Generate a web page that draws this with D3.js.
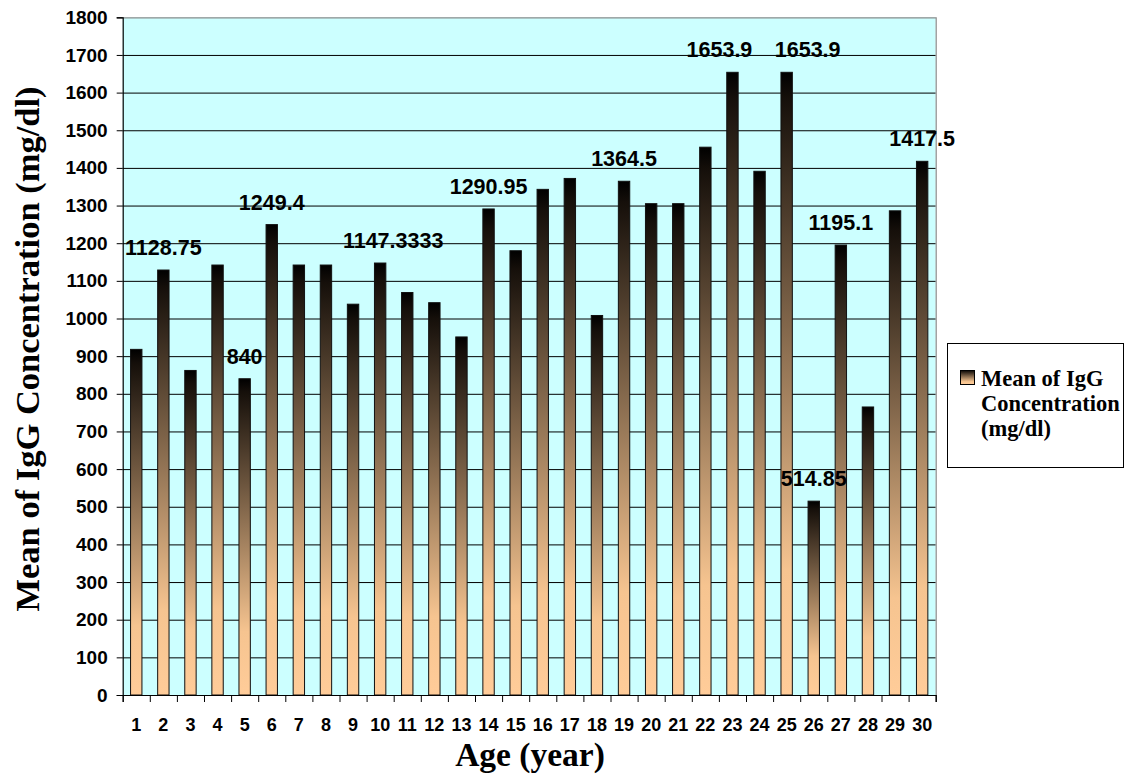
<!DOCTYPE html>
<html>
<head>
<meta charset="utf-8">
<script src="https://cdn.jsdelivr.net/npm/d3@7"></script>
<style>
  html, body { margin: 0; padding: 0; background: #ffffff; }
  svg { display: block; }
</style>
</head>
<body>
<svg id="chart" width="1126" height="780"></svg>
<script>
// ---- data ----
const ages = [1,2,3,4,5,6,7,8,9,10,11,12,13,14,15,16,17,18,19,20,21,22,23,24,25,26,27,28,29,30];
const iggMeans = [918, 1128.75, 862, 1142, 840, 1249.4, 1142, 1142, 1038, 1147.3333,
                  1069, 1042, 951, 1290.95, 1180, 1343, 1372, 1008, 1364.5, 1305,
                  1305, 1455, 1653.9, 1391, 1653.9, 514.85, 1195.1, 765, 1286, 1417.5];
const labeledAges = [2, 5, 6, 10, 14, 19, 23, 25, 26, 27, 30];
const yTicks = [0,100,200,300,400,500,600,700,800,900,1000,1100,1200,1300,1400,1500,1600,1700,1800];
const seriesName = ["Mean of IgG", "Concentration", "(mg/dl)"];
const xTitle = "Age (year)";
const yTitle = "Mean of IgG Concentration (mg/dl)";

// ---- layout ----
const plot = { left: 122.7, right: 935.7, top: 17.3, bottom: 695 };
const sans = "'Liberation Sans', Arial, sans-serif";
const serif = "'Liberation Serif', 'Times New Roman', serif";
// manual label nudges (as in the original, to keep neighbouring labels apart)
const labelNudge = { 10: 13, 23: -13, 25: 21 };

const svg = d3.select("#chart");
svg.append("rect").attr("width", 1126).attr("height", 780).attr("fill", "#ffffff");

const defs = svg.append("defs");
const grad = defs.append("linearGradient").attr("id", "barGrad")
  .attr("x1", 0).attr("y1", 0).attr("x2", 0).attr("y2", 1);
grad.append("stop").attr("offset", 0).attr("stop-color", "#000000");
grad.append("stop").attr("offset", 0.04).attr("stop-color", "#150f0a");
grad.append("stop").attr("offset", 0.8).attr("stop-color", "#F6C490");
grad.append("stop").attr("offset", 1).attr("stop-color", "#FFCC99");

const x = d3.scaleBand().domain(ages).range([plot.left, plot.right])
  .paddingInner(0.58).paddingOuter(0.29);
const xEdge = d3.scaleLinear().domain([0.5, 30.5]).range([plot.left, plot.right]);
const y = d3.scaleLinear().domain([0, 1800]).range([plot.bottom, plot.top]);

// plot background
svg.append("rect")
  .attr("x", plot.left).attr("y", plot.top)
  .attr("width", plot.right - plot.left).attr("height", plot.bottom - plot.top)
  .attr("fill", "#CCFFFF");

// gridlines
svg.append("g").selectAll("line")
  .data(yTicks.filter(t => t > 0 && t < 1800))
  .join("line")
  .attr("x1", plot.left).attr("x2", plot.right)
  .attr("y1", d => y(d) + 0.5).attr("y2", d => y(d) + 0.5)
  .attr("stroke", "#000").attr("stroke-width", 1);

// top / right border
svg.append("path")
  .attr("d", `M${plot.left},${y(1800) + 0.5}H${plot.right + 0.5}V${plot.bottom}`)
  .attr("fill", "none").attr("stroke", "#8c8c8c").attr("stroke-width", 1.2);

// bars
const data = ages.map((a, i) => ({ age: a, v: iggMeans[i] }));
svg.append("g").selectAll("rect")
  .data(data)
  .join("rect")
  .attr("x", d => x(d.age))
  .attr("y", d => y(d.v))
  .attr("width", x.bandwidth())
  .attr("height", d => y(0) - y(d.v))
  .attr("fill", "url(#barGrad)")
  .attr("stroke", "#111")
  .attr("stroke-width", 1);

// y axis
const yAxis = svg.append("g")
  .attr("transform", `translate(${plot.left},0)`)
  .call(d3.axisLeft(y).tickValues(yTicks).tickSize(6).tickPadding(9).tickFormat(d3.format("d")));
yAxis.select(".domain").attr("stroke", "#000").attr("stroke-width", 1.2);
yAxis.selectAll(".tick line").attr("stroke", "#000");
yAxis.selectAll("text")
  .attr("font-family", sans).attr("font-weight", "bold").attr("font-size", 19).attr("fill", "#000");

// x axis: boundary ticks
const xAxisEdges = svg.append("g")
  .attr("transform", `translate(0,${plot.bottom})`)
  .call(d3.axisBottom(xEdge).tickValues(d3.range(0.5, 31, 1)).tickSize(7).tickFormat(""));
xAxisEdges.select(".domain").attr("stroke", "#000").attr("stroke-width", 1.2);
xAxisEdges.selectAll(".tick line").attr("stroke", "#000");

// x axis: labels
const xAxisLabels = svg.append("g")
  .attr("transform", `translate(0,${plot.bottom})`)
  .call(d3.axisBottom(x).tickSize(0).tickPadding(23));
xAxisLabels.select(".domain").remove();
xAxisLabels.selectAll("text")
  .attr("font-family", sans).attr("font-weight", "bold").attr("font-size", 18).attr("fill", "#000");

// data labels
svg.append("g").selectAll("text")
  .data(data.filter(d => labeledAges.includes(d.age)))
  .join("text")
  .attr("x", d => x(d.age) + x.bandwidth() / 2 + (labelNudge[d.age] || 0))
  .attr("y", d => y(d.v) - 15)
  .attr("text-anchor", "middle")
  .attr("font-family", sans).attr("font-weight", "bold").attr("font-size", 21.5)
  .attr("fill", "#000")
  .text(d => String(d.v));

// axis titles
svg.append("text")
  .attr("x", 530).attr("y", 766)
  .attr("text-anchor", "middle")
  .attr("font-family", serif).attr("font-weight", "bold").attr("font-size", 33.5)
  .attr("fill", "#000")
  .text(xTitle);

svg.append("text")
  .attr("transform", "translate(39,349) rotate(-90)")
  .attr("text-anchor", "middle")
  .attr("font-family", serif).attr("font-weight", "bold").attr("font-size", 34.5)
  .attr("fill", "#000")
  .text(yTitle);

// legend
const legend = svg.append("g");
legend.append("rect")
  .attr("x", 947.5).attr("y", 343.5).attr("width", 176).attr("height", 124)
  .attr("fill", "#fff").attr("stroke", "#000").attr("stroke-width", 1);
legend.append("rect")
  .attr("x", 960.5).attr("y", 370.5).attr("width", 14).attr("height", 14)
  .attr("fill", "url(#barGrad)").attr("stroke", "#000").attr("stroke-width", 1);
legend.append("text")
  .attr("font-family", serif).attr("font-weight", "bold").attr("font-size", 22.5).attr("fill", "#000")
  .selectAll("tspan")
  .data(seriesName)
  .join("tspan")
  .attr("x", 981)
  .attr("y", (d, i) => 386 + i * 25)
  .text(d => d);
</script>
</body>
</html>
